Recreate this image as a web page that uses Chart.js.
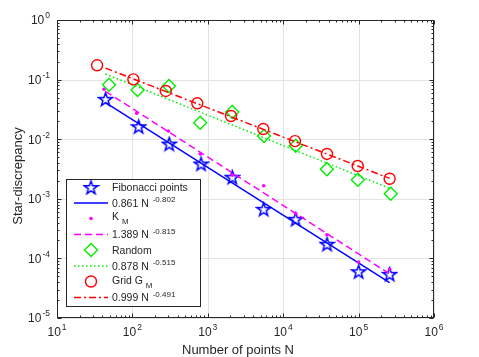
<!DOCTYPE html>
<html>
<head>
<meta charset="utf-8">
<script src="https://cdn.jsdelivr.net/npm/chart.js@4.4.1/dist/chart.umd.min.js"></script>
<style>
  html, body { margin: 0; padding: 0; background: #fff; }
  #chart { display: block; }
</style>
</head>
<body>
<canvas id="chart" width="479" height="357"></canvas>
<script>
// values
const fibN = [44, 121, 308, 813, 2113, 5510, 14650, 38100, 100200, 258000];
const fibD = [0.0467, 0.0162, 0.0083, 0.00384, 0.0023, 0.000667, 0.000453, 0.000173, 0.0000598, 0.0000541];

const kmN = [42, 114, 300, 794, 2113, 5510, 14650, 38000, 100000, 257000];
const kmD = [0.0688, 0.0272, 0.01374, 0.00565, 0.0025, 0.00166, 0.000562, 0.00025, 0.000087, 0.0000656];

const randN = [49, 117, 305, 794, 2113, 5560, 14650, 38000, 97700, 267000];
const randD = [0.082, 0.067, 0.078, 0.0189, 0.0286, 0.0113, 0.00778, 0.00313, 0.00209, 0.00122];

const gridN = [34, 103, 277, 726, 2030, 5445, 14320, 38100, 97300, 258000];
const gridD = [0.174, 0.101, 0.0644, 0.040, 0.0245, 0.0148, 0.0093, 0.00565, 0.00355, 0.00217];

// fitted lines (end points)
const fitN = [44, 258000];
const fibFit = [0.0412, 0.0000393];
const kmFit = [0.0636, 0.000055];
const randFit = [0.124, 0.0015];
const gridFit = [0.156, 0.0022];

const xTicks = [1, 2, 3, 4, 5, 6];        // exponents of 10
const yTicks = [0, -1, -2, -3, -4, -5];

const FONT = '"Liberation Sans", Arial, Helvetica, sans-serif';
const TXT = '#262626';

function pts(xs, ys) {
    return xs.map((x, i) => ({ x: x, y: ys[i] }));
}

// 5 point star marker
function makeStar(color) {
    const c = document.createElement('canvas');
    c.width = 17; c.height = 17;
    const g = c.getContext('2d');
    g.strokeStyle = color;
    g.lineWidth = 1.5;
    g.lineJoin = 'miter';
    g.beginPath();
    for (let i = 0; i < 10; i++) {
        const r = i % 2 === 0 ? 7 : 2.8;
        const a = -Math.PI / 2 + i * Math.PI / 5;
        const px = 8.5 + r * Math.cos(a);
        const py = 9 + r * Math.sin(a);
        if (i === 0) g.moveTo(px, py); else g.lineTo(px, py);
    }
    g.closePath();
    g.stroke();
    return c;
}
const starImg = makeStar('#0000ff');

const datasets = [
    { label: 'Fibonacci points', data: pts(fibN, fibD), showLine: false,
      pointStyle: starImg, pointRadius: 7, order: 8 },
    { label: '0.861 N -0.802', data: pts(fitN, fibFit), showLine: true, pointRadius: 0,
      borderColor: '#0000ff', borderWidth: 1.5, order: 7 },
    { label: 'K M', data: pts(kmN, kmD), showLine: false, pointStyle: 'circle',
      pointRadius: 1.8, backgroundColor: '#ff00ff', borderColor: '#ff00ff', borderWidth: 0, order: 6 },
    { label: '1.389 N -0.815', data: pts(fitN, kmFit), showLine: true, pointRadius: 0,
      borderColor: '#ff00ff', borderWidth: 1.5, borderDash: [7, 4], order: 5 },
    { label: 'Random', data: pts(randN, randD), showLine: false, pointStyle: 'rectRot',
      pointRadius: 6.5, backgroundColor: 'rgba(0,0,0,0)', borderColor: '#00ee00', borderWidth: 1.4, order: 4 },
    { label: '0.878 N -0.515', data: pts(fitN, randFit), showLine: true, pointRadius: 0,
      borderColor: '#00ee00', borderWidth: 1.5, borderDash: [1.5, 2.5], order: 3 },
    { label: 'Grid G M', data: pts(gridN, gridD), showLine: false, pointStyle: 'circle',
      pointRadius: 5.5, backgroundColor: 'rgba(0,0,0,0)', borderColor: '#ff0000', borderWidth: 1.4, order: 2 },
    { label: '0.999 N -0.491', data: pts(fitN, gridFit), showLine: true, pointRadius: 0,
      borderColor: '#ff0000', borderWidth: 1.5, borderDash: [7, 3, 2, 3], order: 1 }
];

function drawPow(ctx, x, y, base, exp, align) {
    ctx.font = '12px ' + FONT;
    const bw = ctx.measureText(base).width;
    ctx.font = '8.5px ' + FONT;
    const ew = ctx.measureText(exp).width;
    let left;
    if (align === 'right') left = x - bw - 1 - ew;
    else left = x - (bw + 1 + ew) / 2;
    ctx.textAlign = 'left';
    ctx.textBaseline = 'middle';
    ctx.font = '12px ' + FONT;
    ctx.fillText(base, left, y + 1);
    ctx.font = '8.5px ' + FONT;
    ctx.fillText(exp, left + bw + 1, y - 4);
}

const axesPlugin = {
    id: 'matlabAxes',
    beforeDatasetsDraw(chart) {
        const ctx = chart.ctx, a = chart.chartArea;
        const xs = chart.scales.x, ys = chart.scales.y;
        ctx.save();
        ctx.strokeStyle = '#e4e4e4';
        ctx.lineWidth = 1;
        xTicks.forEach(e => {
            const px = Math.round(xs.getPixelForValue(Math.pow(10, e))) + 0.5;
            ctx.beginPath(); ctx.moveTo(px, a.top); ctx.lineTo(px, a.bottom); ctx.stroke();
        });
        yTicks.forEach(e => {
            const py = Math.round(ys.getPixelForValue(Math.pow(10, e))) + 0.5;
            ctx.beginPath(); ctx.moveTo(a.left, py); ctx.lineTo(a.right, py); ctx.stroke();
        });
        ctx.restore();
    },
    afterDraw(chart) {
        const ctx = chart.ctx, a = chart.chartArea;
        const xs = chart.scales.x, ys = chart.scales.y;
        const L = Math.round(a.left) + 0.5, R = Math.round(a.right) - 0.5;
        const T = Math.round(a.top) + 0.5, B = Math.round(a.bottom) - 0.5;
        ctx.save();
        ctx.strokeStyle = TXT;
        ctx.lineWidth = 1;
        ctx.strokeRect(L, T, R - L, B - T);

        // ticks, inside on all four sides
        ctx.beginPath();
        for (let e = 1; e <= 6; e++) {
            for (let m = 1; m <= 9; m++) {
                if (e === 6 && m > 1) break;
                const px = Math.round(xs.getPixelForValue(m * Math.pow(10, e))) + 0.5;
                const len = m === 1 ? 4 : 2;
                ctx.moveTo(px, B); ctx.lineTo(px, B - len);
                ctx.moveTo(px, T); ctx.lineTo(px, T + len);
            }
        }
        for (let e = -5; e <= 0; e++) {
            for (let m = 1; m <= 9; m++) {
                if (e === 0 && m > 1) break;
                const py = Math.round(ys.getPixelForValue(m * Math.pow(10, e))) + 0.5;
                const len = m === 1 ? 4 : 2;
                ctx.moveTo(L, py); ctx.lineTo(L + len, py);
                ctx.moveTo(R, py); ctx.lineTo(R - len, py);
            }
        }
        ctx.stroke();

        // tick labels
        ctx.fillStyle = TXT;
        xTicks.forEach(e => {
            drawPow(ctx, xs.getPixelForValue(Math.pow(10, e)), a.bottom + 14, '10', String(e), 'center');
        });
        yTicks.forEach(e => {
            drawPow(ctx, a.left - 7, ys.getPixelForValue(Math.pow(10, e)), '10', String(e), 'right');
        });

        // axis titles
        ctx.font = '13px ' + FONT;
        ctx.textAlign = 'center';
        ctx.textBaseline = 'alphabetic';
        ctx.fillText('Number of points N', 238, 354);
        ctx.save();
        ctx.translate(22, 176);
        ctx.rotate(-Math.PI / 2);
        ctx.fillText('Star-discrepancy', 0, 0);
        ctx.restore();

        drawLegend(ctx);
        ctx.restore();
    }
};

function legendText(ctx, x, y, main, sup, sub) {
    ctx.font = '10.5px ' + FONT;
    ctx.textAlign = 'left';
    ctx.textBaseline = 'middle';
    ctx.fillStyle = TXT;
    ctx.fillText(main, x, y + 1);
    const w = ctx.measureText(main + ' ').width;
    ctx.font = '8px ' + FONT;
    if (sup) ctx.fillText(sup, x + w + 1, y - 3);
    if (sub) ctx.fillText(sub, x + w, y + 5);
}

function drawLegend(ctx) {
    ctx.save();
    ctx.fillStyle = '#fff';
    ctx.fillRect(67, 179, 134, 128);
    ctx.strokeStyle = TXT;
    ctx.lineWidth = 1;
    ctx.strokeRect(66.5, 179.5, 134, 127);

    const mx = 91, x0 = 74, x1 = 108, tx = 112;
    const rows = [187.5, 203, 218.5, 234.5, 250, 266, 281.5, 297.5];

    // row 1: star
    ctx.drawImage(starImg, mx - 8.5, rows[0] - 8.5);
    legendText(ctx, tx, rows[0], 'Fibonacci points');
    // fit line samples
    [1, 3, 5, 7].forEach(i => {
        const ds = datasets[i];
        ctx.strokeStyle = ds.borderColor;
        ctx.lineWidth = ds.borderWidth;
        ctx.setLineDash(ds.borderDash || []);
        ctx.beginPath();
        ctx.moveTo(x0, rows[i]); ctx.lineTo(x1, rows[i]);
        ctx.stroke();
        ctx.setLineDash([]);
    });
    legendText(ctx, tx, rows[1], '0.861 N', '-0.802');
    // K_M dot
    ctx.fillStyle = '#ff00ff';
    ctx.beginPath(); ctx.arc(mx, rows[2], 1.8, 0, Math.PI * 2); ctx.fill();
    legendText(ctx, tx, rows[2] - 2, 'K', null, 'M');
    legendText(ctx, tx, rows[3], '1.389 N', '-0.815');
    // diamond
    ctx.strokeStyle = '#00ee00';
    ctx.lineWidth = 1.4;
    ctx.beginPath();
    ctx.moveTo(mx, rows[4] - 6.5); ctx.lineTo(mx + 6.5, rows[4]);
    ctx.lineTo(mx, rows[4] + 6.5); ctx.lineTo(mx - 6.5, rows[4]); ctx.closePath();
    ctx.stroke();
    legendText(ctx, tx, rows[4], 'Random');
    legendText(ctx, tx, rows[5], '0.878 N', '-0.515');
    // circle
    ctx.strokeStyle = '#ff0000';
    ctx.beginPath(); ctx.arc(mx, rows[6], 5.5, 0, Math.PI * 2); ctx.stroke();
    legendText(ctx, tx, rows[6] - 1, 'Grid G', null, 'M');
    legendText(ctx, tx, rows[7], '0.999 N', '-0.491');
    ctx.restore();
}

const config = {
    type: 'scatter',
    data: { datasets: datasets },
    options: {
        responsive: false,
        animation: false,
        devicePixelRatio: 1,
        layout: { padding: { left: 57, right: 45, top: 20, bottom: 39 } },
        plugins: {
            legend: { display: false },
            tooltip: { enabled: false }
        },
        scales: {
            x: { type: 'logarithmic', min: 10, max: 1e6, display: false },
            y: { type: 'logarithmic', min: 1e-5, max: 1, display: false }
        }
    },
    plugins: [axesPlugin]
};

const ctx = document.getElementById('chart').getContext('2d');
const myChart = new Chart(ctx, config);
</script>
</body>
</html>
